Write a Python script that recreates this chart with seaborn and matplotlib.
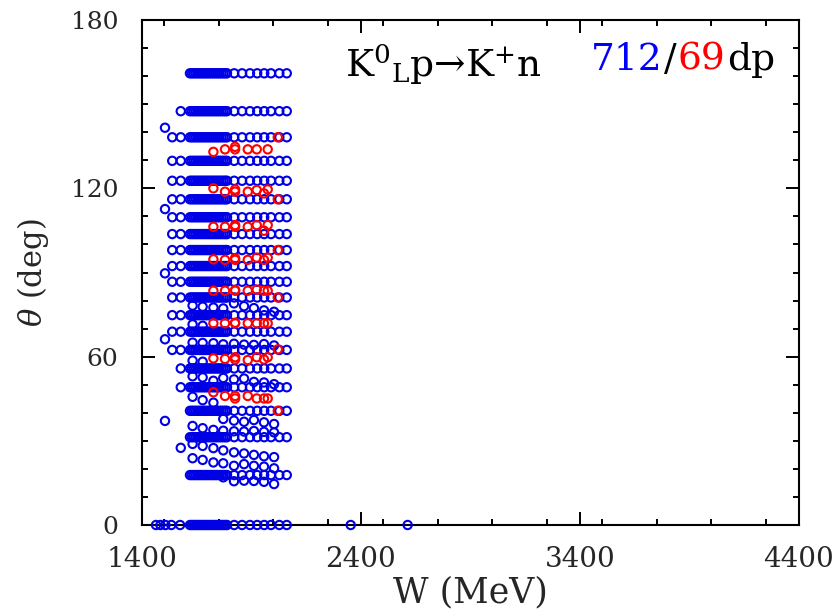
import numpy as np
import pandas as pd
import matplotlib
matplotlib.use("Agg")
import matplotlib.pyplot as plt
import seaborn as sns
from matplotlib.ticker import FixedLocator, MultipleLocator

# ---------------- data ----------------
# energies W (MeV) of the blue dense rows
W_LEFT = [1538, 1577]
W_DENSE = [1619, 1628, 1637, 1646, 1655, 1664, 1673, 1682, 1691, 1700,
           1709, 1718, 1727, 1736, 1745, 1754, 1763, 1772, 1781, 1788]
W_RIGHT = [1821, 1857, 1893, 1926, 1958, 1989, 2027, 2061]

# angles (deg) of blue rows, grouped by their lowest energy
ROWS_FROM_1538 = [138.2, 129.8, 122.7, 116.1, 109.7, 103.7, 98.0, 92.3,
                  86.7, 81.1, 74.8, 68.9, 62.4]
ROWS_FROM_1577 = [147.5, 55.8, 49.1]
ROWS_FROM_1619 = [161.0, 40.7, 31.3, 17.8]

# zero-degree row
W_ZERO_LOW = [1464, 1484, 1507, 1534, 1574]
W_ZERO_HIGH = [2353, 2613]

# isolated low-energy points
W_SINGLE = 1505
THETA_SINGLE = [141.6, 112.6, 89.7, 66.2, 37.1]

# scattered blue points between rows
W_SC = [1631, 1677, 1726, 1771, 1820, 1866, 1911, 1957, 2003]
SC_A = [78.2, 77.8, 77.5, 77.2, 79.0, 78.0, 77.3, 76.5, 76.0]
SC_C = [65.0, 64.9, 64.8, 64.4, 64.6, 64.3, 64.2, 64.5, 64.0]
SC_E = [53.0, 52.6, 51.4, 52.4, 51.9, 52.2, 51.0, 50.8, 50.2]
SC_G = [35.3, 34.5, 33.9, 33.6, 33.4, 33.3, 33.5, 33.2, 33.0]
SC_I = [28.9, 28.2, 27.4, 26.6, 25.9, 25.5, 25.0, 24.5, 24.2]
SC_J = [23.8, 23.2, 22.3, 22.0, 21.1, 21.7, 21.1, 20.8, 20.2]
W_SC_PART = [1631, 1677, 1631, 1677, 1631, 1677, 1726, 1577]
TH_SC_PART = [71.5, 71.0, 58.6, 58.2, 45.7, 44.5, 43.6, 27.5]
W_SC_HI = [1771, 1820, 1866, 1911, 1957, 2003]
SC_G2 = [37.8, 37.2, 36.8, 37.4, 36.6, 36.0]
SC_K = [17.0, 15.6, 15.8, 15.7, 15.4, 14.6]

# red data set
W_RED = [1726, 1779, 1825, 1883, 1924, 1974]
RED_ROWS = [
    [133.0, 133.9, 134.8, 133.9, 133.9, 133.9],
    [120.0, 118.8, 119.6, 118.8, 119.4, 119.6],
    [106.3, 106.3, 106.9, 106.3, 106.9, 106.9],
    [94.7, 94.5, 95.1, 94.5, 95.3, 95.3],
    [83.5, 83.5, 83.8, 83.5, 83.9, 83.5],
    [71.9, 71.9, 72.1, 71.9, 71.9, 71.9],
    [59.4, 59.2, 59.8, 58.8, 59.8, 59.8],
    [47.3, 46.0, 46.0, 46.0, 45.1, 45.1],
]
W_RED_EXTRA = [1825, 1825, 1825, 1825, 1825, 1825, 1825, 1825,
               1957, 1957, 1957, 1957, 1957, 1957, 1957,
               2020, 2020, 2020, 2020, 2020, 2020]
TH_RED_EXTRA = [133.9, 118.8, 106.3, 94.5, 83.5, 71.9, 59.0, 45.1,
                118.2, 104.9, 94.5, 83.5, 71.9, 59.0, 45.1,
                138.2, 116.1, 98.0, 81.1, 62.6, 40.7]

# ---------------- build tables ----------------
bw, bt = [], []
for th in ROWS_FROM_1538:
    ws = W_LEFT + W_DENSE + W_RIGHT
    bw += ws; bt += [th] * len(ws)
for th in ROWS_FROM_1577:
    ws = W_LEFT[1:] + W_DENSE + W_RIGHT
    bw += ws; bt += [th] * len(ws)
for th in ROWS_FROM_1619:
    ws = W_DENSE + W_RIGHT
    bw += ws; bt += [th] * len(ws)
ws = W_ZERO_LOW + W_DENSE + W_RIGHT + W_ZERO_HIGH
bw += ws; bt += [0.0] * len(ws)
bw += [W_SINGLE] * len(THETA_SINGLE); bt += THETA_SINGLE
for band in (SC_A, SC_C, SC_E, SC_G, SC_I, SC_J):
    bw += W_SC; bt += band
bw += W_SC_PART; bt += TH_SC_PART
for band in (SC_G2, SC_K):
    bw += W_SC_HI; bt += band
blue = pd.DataFrame({"W": bw, "theta": bt})

rw, rt = [], []
for row in RED_ROWS:
    rw += W_RED; rt += row
rw += W_RED_EXTRA; rt += TH_RED_EXTRA
red = pd.DataFrame({"W": rw, "theta": rt})

# ---------------- style ----------------
sns.set_style("ticks")
plt.rcParams["font.family"] = ["DejaVu Serif", "DejaVu Sans"]
plt.rcParams["mathtext.fontset"] = "dejavuserif"

fig = plt.figure(figsize=(8.37, 6.13), dpi=100)
ax = fig.add_axes([142 / 837, 1 - 525 / 613, 657 / 837, 505 / 613])

sns.scatterplot(data=blue, x="W", y="theta", ax=ax, marker="o", s=36,
                facecolors="none", edgecolors="#0000e6", linewidths=1.5,
                clip_on=False, legend=False, zorder=3)
sns.scatterplot(data=red, x="W", y="theta", ax=ax, marker="o", s=36,
                facecolors="none", edgecolors="#ff0000", linewidths=1.5,
                clip_on=False, legend=False, zorder=4)

ax.set_xlim(1400, 4400)
ax.set_ylim(0, 180)
ax.xaxis.set_major_locator(FixedLocator([1400, 2400, 3400, 4400]))
ax.xaxis.set_minor_locator(MultipleLocator(250))
ax.yaxis.set_major_locator(FixedLocator([0, 60, 120, 180]))
ax.yaxis.set_minor_locator(MultipleLocator(10))
ax.tick_params(which="both", direction="in", top=True, right=True,
               width=1.4, color="black")
ax.tick_params(which="major", length=9.5)
ax.tick_params(which="minor", length=4.5)
ax.tick_params(axis="x", which="major", labelsize=20, pad=15)
ax.tick_params(axis="y", which="major", labelsize=18, pad=17)
for s in ax.spines.values():
    s.set_linewidth(1.5)
    s.set_color("black")

ax.set_xlabel("W (MeV)", fontsize=25, labelpad=2)
ax.set_ylabel(r"$\theta$ (deg)", fontsize=22, labelpad=14)

# title reaction text
ax.text(0.309, 0.887, r"K$^{0}$$_{\mathrm{L}}$p→K$^{+}$n", transform=ax.transAxes,
        fontsize=27, ha="left", va="baseline", color="black")
t1 = ax.text(0.683, 0.901, "712", transform=ax.transAxes, fontsize=27,
             ha="left", va="baseline", color="#0000ff")
t2 = ax.annotate("/", xy=(1, 0), xycoords=t1, xytext=(1, 0),
                 textcoords="offset points", fontsize=27, ha="left",
                 va="bottom", color="black")
t3 = ax.annotate("69", xy=(1, 0), xycoords=t2, xytext=(1, 0),
                 textcoords="offset points", fontsize=27, ha="left",
                 va="bottom", color="#ff0000")
ax.annotate("dp", xy=(1, 0), xycoords=t3, xytext=(1, 0),
            textcoords="offset points", fontsize=27, ha="left",
            va="bottom", color="black")

fig.savefig("out.png", dpi=100)
